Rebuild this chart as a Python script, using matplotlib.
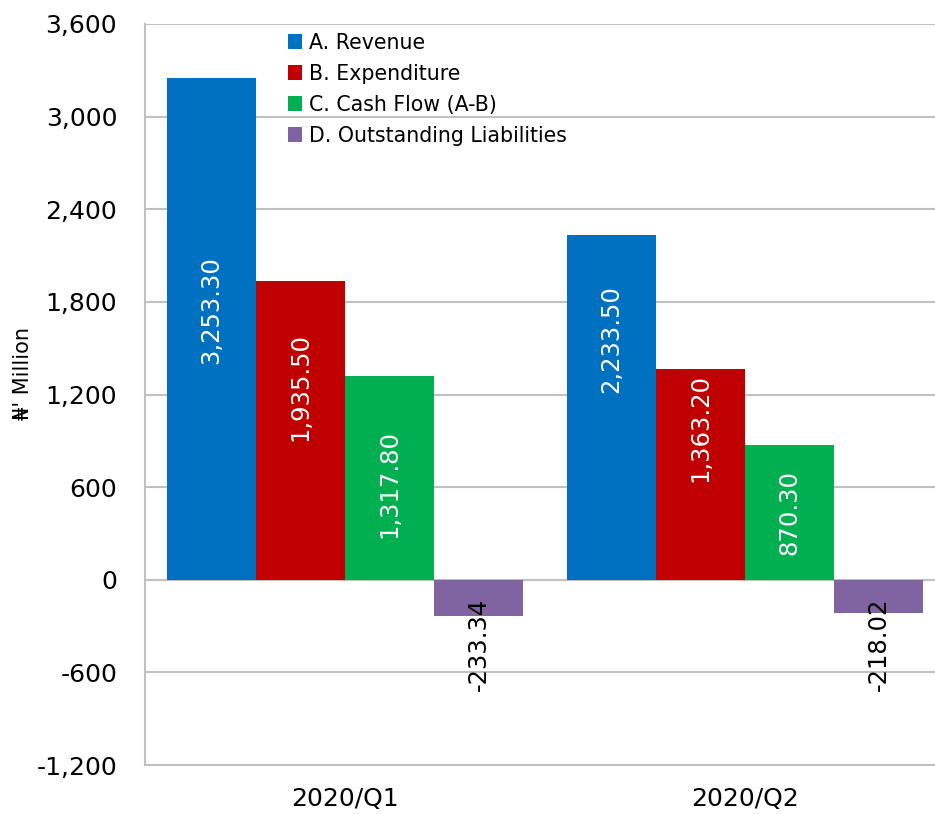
import matplotlib
matplotlib.use("Agg")
import matplotlib.pyplot as plt
import numpy as np

# Data
quarters = ["2020/Q1", "2020/Q2"]
series_names = ["A. Revenue", "B. Expenditure", "C. Cash Flow (A-B)", "D. Outstanding Liabilities"]
revenue = [3253.30, 2233.50]
expenditure = [1935.50, 1363.20]
cash_flow = [1317.80, 870.30]
liabilities = [-233.34, -218.02]

yticks = [-1200, -600, 0, 600, 1200, 1800, 2400, 3000, 3600]

# Styling / layout
colors = ["#0070C0", "#C00000", "#00B050", "#8064A2"]
label_y = [
    [1749, 1561],   # revenue labels
    [1250, 985],    # expenditure labels
    [622, 434],     # cash flow labels
    [-421, -421],   # liabilities labels
]
label_colors = ["white", "white", "white", "black"]

plt.rcParams["font.family"] = ["DejaVu Sans"]

W, H = 935, 814
fig = plt.figure(figsize=(W / 100, H / 100), dpi=100)
ax = fig.add_axes([145 / W, (H - 765) / H, 800 / W, 741 / H])

values = [revenue, expenditure, cash_flow, liabilities]
x = np.arange(len(quarters))
bw = 0.2225
offsets = (np.arange(4) - 1.5) * bw

for i, (vals, name) in enumerate(zip(values, series_names)):
    ax.bar(x + offsets[i], vals, width=bw, color=colors[i], label=name,
           zorder=3, edgecolor="none")
    for j, v in enumerate(vals):
        ax.text(x[j] + offsets[i], label_y[i][j], f"{v:,.2f}", rotation=90,
                ha="center", va="center", color=label_colors[i],
                fontsize=17.5, zorder=4)

ax.set_xlim(-0.5, 1.5)
ax.set_ylim(-1200, 3600)
ax.set_yticks(yticks)
ax.set_yticklabels([f"{t:,}" for t in yticks])
ax.set_xticks(x)
ax.set_xticklabels(quarters)
ax.tick_params(axis="both", length=0, labelsize=18)
ax.tick_params(axis="y", pad=20)
ax.tick_params(axis="x", pad=16)

ax.yaxis.grid(True, color="#c0c0c0", linewidth=1.5, zorder=0)
for s in ["top", "right"]:
    ax.spines[s].set_visible(False)
for s in ["left", "bottom"]:
    ax.spines[s].set_color("#c0c0c0")
    ax.spines[s].set_linewidth(1.5)

ax.set_ylabel("\u20a6' Million", fontsize=15)
ax.yaxis.set_label_coords(-0.14, 0.528)

leg = ax.legend(loc="upper left", bbox_to_anchor=(0.168, 0.999), frameon=False,
                fontsize=14.8, handlelength=0.72, handleheight=0.72,
                handletextpad=0.3, labelspacing=0.53, borderaxespad=0)

fig.savefig("out.png", dpi=100)
